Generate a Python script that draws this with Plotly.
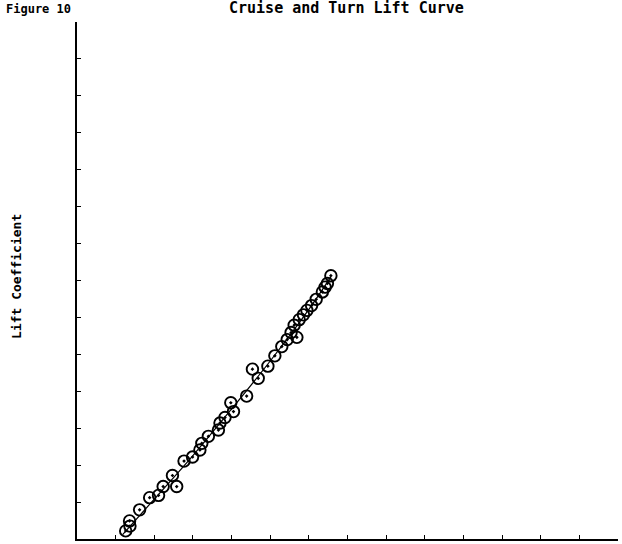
import plotly.graph_objects as go

# Measured lift coefficient vs. angle of attack (deg)
alpha = [1.26, 1.37, 1.36, 1.62, 1.88, 2.11, 2.23, 2.47, 2.58, 2.77,
         2.99, 3.18, 3.23, 3.40, 3.66, 3.70, 3.83, 4.05, 3.98, 4.39,
         4.69, 4.54, 4.94, 5.12, 5.30, 5.44, 5.69, 5.54, 5.62, 5.75,
         5.86, 5.95, 6.07, 6.19, 6.35, 6.42, 6.48, 6.57]
cl = [0.022, 0.035, 0.049, 0.079, 0.112, 0.118, 0.142, 0.172, 0.142, 0.211,
      0.222, 0.241, 0.259, 0.278, 0.295, 0.314, 0.329, 0.345, 0.369, 0.387,
      0.435, 0.460, 0.468, 0.496, 0.521, 0.540, 0.546, 0.559, 0.579, 0.594,
      0.607, 0.619, 0.632, 0.649, 0.669, 0.682, 0.692, 0.713]

# Faired lift curve
fit_alpha = [1.18, 2.0, 3.0, 4.0, 5.0, 6.0, 6.57]
fit_cl = [0.012, 0.108, 0.226, 0.352, 0.482, 0.622, 0.710]

FONT = "DejaVu Sans Mono"

fig = go.Figure()
fig.add_trace(go.Scatter(
    x=fit_alpha, y=fit_cl, mode="lines",
    line=dict(color="black", width=1.2, shape="spline"),
    hoverinfo="skip", showlegend=False,
))
fig.add_trace(go.Scatter(
    x=alpha, y=cl, mode="markers",
    marker=dict(symbol="circle-open-dot", size=11.5, color="black",
                line=dict(width=1.9, color="black")),
    showlegend=False,
))

axis_common = dict(
    showline=True, linecolor="black", linewidth=1.8,
    ticks="inside", ticklen=4, tickwidth=1.4, tickcolor="black",
    showticklabels=False, showgrid=False, zeroline=False, mirror=False,
)

fig.update_layout(
    width=622, height=544,
    margin=dict(l=77, r=4, t=22, b=5),
    paper_bgcolor="white", plot_bgcolor="white",
    xaxis=dict(range=[0, 14], dtick=1, tick0=0, **axis_common),
    yaxis=dict(range=[0, 1.4], dtick=0.1, tick0=0, **axis_common),
    annotations=[
        dict(text="<b>Figure 10</b>", xref="paper", yref="paper",
             x=-0.135, y=1.026, xanchor="left", yanchor="middle",
             showarrow=False, font=dict(family=FONT, size=12, color="black")),
        dict(text="<b>Cruise and Turn Lift Curve</b>", xref="paper", yref="paper",
             x=0.498, y=1.027, xanchor="center", yanchor="middle",
             showarrow=False, font=dict(family=FONT, size=15, color="black")),
        dict(text="<b>Lift Coefficient</b>", xref="paper", yref="paper",
             x=-0.1128, y=0.5087, xanchor="center", yanchor="middle",
             textangle=-90, showarrow=False,
             font=dict(family=FONT, size=13, color="black")),
    ],
)

fig.write_html("out.html")
